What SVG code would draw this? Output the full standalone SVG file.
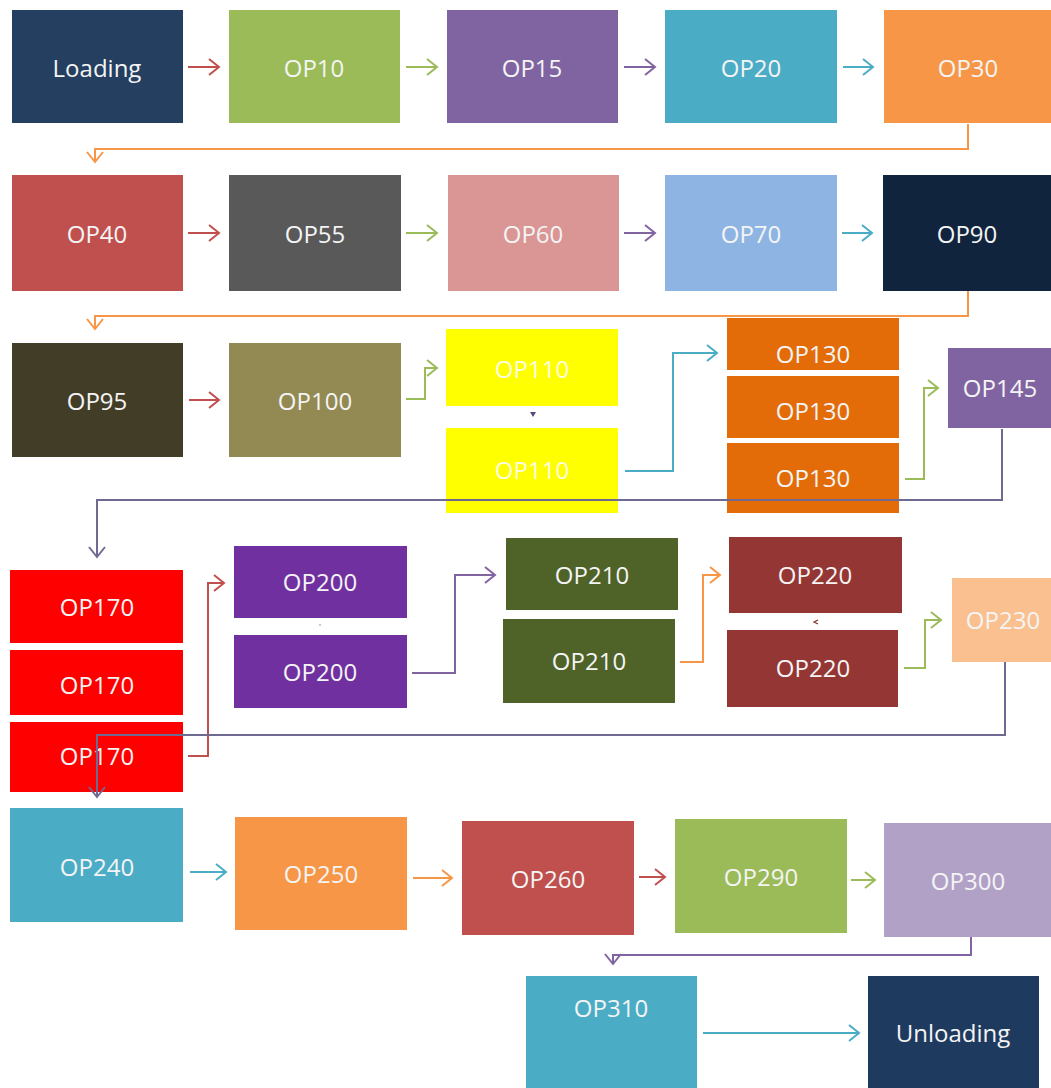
<svg xmlns="http://www.w3.org/2000/svg" width="1051" height="1088" viewBox="0 0 1051 1088">
<style>
text{font-family:"Open Sans","Noto Sans","Liberation Sans",sans-serif;font-size:24px;fill:#f4f4f4;text-anchor:middle;dominant-baseline:central}
.c{fill:none;stroke-width:2}
.red{stroke:#c0504d}.grn{stroke:#9bbb59}.pur{stroke:#8064a2}.tea{stroke:#4bacc6}.org{stroke:#f79646}.gry{stroke:#6e6a92}
</style>
<defs>
<marker id="mr" markerUnits="userSpaceOnUse" markerWidth="14" markerHeight="20" refX="11" refY="9" orient="auto"><path d="M1,1 L11,9 L1,17" fill="none" stroke="#c0504d" stroke-width="2"/></marker>
<marker id="mg" markerUnits="userSpaceOnUse" markerWidth="14" markerHeight="20" refX="11" refY="9" orient="auto"><path d="M1,1 L11,9 L1,17" fill="none" stroke="#9bbb59" stroke-width="2"/></marker>
<marker id="mp" markerUnits="userSpaceOnUse" markerWidth="14" markerHeight="20" refX="11" refY="9" orient="auto"><path d="M1,1 L11,9 L1,17" fill="none" stroke="#8064a2" stroke-width="2"/></marker>
<marker id="mt" markerUnits="userSpaceOnUse" markerWidth="14" markerHeight="20" refX="11" refY="9" orient="auto"><path d="M1,1 L11,9 L1,17" fill="none" stroke="#4bacc6" stroke-width="2"/></marker>
<marker id="mo" markerUnits="userSpaceOnUse" markerWidth="14" markerHeight="20" refX="11" refY="9" orient="auto"><path d="M1,1 L11,9 L1,17" fill="none" stroke="#f79646" stroke-width="2"/></marker>
<marker id="my" markerUnits="userSpaceOnUse" markerWidth="14" markerHeight="20" refX="11" refY="9" orient="auto"><path d="M1,1 L11,9 L1,17" fill="none" stroke="#6e6a92" stroke-width="2"/></marker>
</defs>
<rect width="1051" height="1088" fill="#ffffff"/>
<g id="nodes">
<g id="loading"><rect x="12" y="10" width="171" height="113" fill="#243f60"/><text x="97" y="67">Loading</text></g>
<g id="op10"><rect x="229" y="10" width="171" height="113" fill="#9bbb59"/><text x="314" y="67">OP10</text></g>
<g id="op15"><rect x="447" y="10" width="171" height="113" fill="#8064a2"/><text x="532" y="67">OP15</text></g>
<g id="op20"><rect x="665" y="10" width="172" height="113" fill="#4bacc6"/><text x="751" y="67">OP20</text></g>
<g id="op30"><rect x="884" y="10" width="167" height="113" fill="#f79646"/><text x="968" y="67">OP30</text></g>

<g id="op40"><rect x="12" y="175" width="171" height="116" fill="#c0504d"/><text x="97" y="233">OP40</text></g>
<g id="op55"><rect x="229" y="175" width="172" height="116" fill="#595959"/><text x="315" y="233">OP55</text></g>
<g id="op60"><rect x="448" y="175" width="171" height="116" fill="#d99694"/><text x="533" y="233">OP60</text></g>
<g id="op70"><rect x="665" y="175" width="172" height="116" fill="#8eb4e3"/><text x="751" y="233">OP70</text></g>
<g id="op90"><rect x="883" y="175" width="168" height="116" fill="#10243e"/><text x="967" y="233">OP90</text></g>

<g id="op95"><rect x="12" y="343" width="171" height="114" fill="#423d27"/><text x="97" y="400">OP95</text></g>
<g id="op100"><rect x="229" y="343" width="172" height="114" fill="#938953"/><text x="315" y="400">OP100</text></g>
<g id="op110a"><rect x="446" y="329" width="172" height="77" fill="#ffff00"/><text x="532" y="368" style="fill:#fdfde0">OP110</text></g>
<g id="op110b"><rect x="446" y="428" width="172" height="85" fill="#ffff00"/><text x="532" y="469" style="fill:#fdfde0">OP110</text></g>
<g id="op130a"><rect x="727" y="318" width="172" height="52" fill="#e36c09"/><text x="813" y="353">OP130</text></g>
<g id="op130b"><rect x="727" y="376" width="172" height="62" fill="#e36c09"/><text x="813" y="410">OP130</text></g>
<g id="op130c"><rect x="727" y="443" width="172" height="70" fill="#e36c09"/><text x="813" y="477">OP130</text></g>
<g id="op145"><rect x="948" y="348" width="103" height="80" fill="#8064a2"/><text x="1000" y="387">OP145</text></g>

<g id="op170a"><rect x="10" y="570" width="173" height="73" fill="#ff0000"/><text x="97" y="606">OP170</text></g>
<g id="op170b"><rect x="10" y="650" width="173" height="65" fill="#ff0000"/><text x="97" y="684">OP170</text></g>
<g id="op170c"><rect x="10" y="722" width="173" height="70" fill="#ff0000"/><text x="97" y="755">OP170</text></g>
<g id="op200a"><rect x="234" y="546" width="173" height="72" fill="#7030a0"/><text x="320" y="581">OP200</text></g>
<g id="op200b"><rect x="234" y="635" width="173" height="73" fill="#7030a0"/><text x="320" y="671">OP200</text></g>
<g id="op210a"><rect x="506" y="538" width="172" height="72" fill="#4f6228"/><text x="592" y="574">OP210</text></g>
<g id="op210b"><rect x="503" y="619" width="172" height="84" fill="#4f6228"/><text x="589" y="660">OP210</text></g>
<g id="op220a"><rect x="729" y="537" width="173" height="76" fill="#943634"/><text x="815" y="574">OP220</text></g>
<g id="op220b"><rect x="727" y="630" width="171" height="77" fill="#943634"/><text x="813" y="667">OP220</text></g>
<g id="op230"><rect x="952" y="578" width="99" height="84" fill="#fac090"/><text x="1003" y="619">OP230</text></g>

<g id="op240"><rect x="10" y="808" width="173" height="114" fill="#4bacc6"/><text x="97" y="866">OP240</text></g>
<g id="op250"><rect x="235" y="817" width="172" height="113" fill="#f79646"/><text x="321" y="873">OP250</text></g>
<g id="op260"><rect x="462" y="821" width="172" height="114" fill="#c0504d"/><text x="548" y="878">OP260</text></g>
<g id="op290"><rect x="675" y="819" width="172" height="114" fill="#9bbb59"/><text x="761" y="876">OP290</text></g>
<g id="op300"><rect x="884" y="823" width="167" height="114" fill="#b2a1c7"/><text x="968" y="880">OP300</text></g>
<g id="op310"><rect x="526" y="976" width="171" height="112" fill="#4bacc6"/><text x="611" y="1007">OP310</text></g>
<g id="unloading"><rect x="868" y="976" width="171" height="112" fill="#1f3a5f"/><text x="953" y="1032">Unloading</text></g>
</g>
<g id="connectors">
<path class="c red" d="M188,67 H219" marker-end="url(#mr)"/>
<path class="c grn" d="M406,67 H437" marker-end="url(#mg)"/>
<path class="c pur" d="M624,67 H655" marker-end="url(#mp)"/>
<path class="c tea" d="M843,67 H873" marker-end="url(#mt)"/>
<path class="c org" d="M968,124 V149 H95 V162" marker-end="url(#mo)"/>
<path class="c red" d="M188,233 H219" marker-end="url(#mr)"/>
<path class="c grn" d="M406,233 H437" marker-end="url(#mg)"/>
<path class="c pur" d="M624,233 H655" marker-end="url(#mp)"/>
<path class="c tea" d="M842,233 H872" marker-end="url(#mt)"/>
<path class="c org" d="M968,291 V316 H95 V329" marker-end="url(#mo)"/>
<path class="c red" d="M189,400 H219" marker-end="url(#mr)"/>
<path class="c grn" d="M406,399 H425 V368 H437" marker-end="url(#mg)"/>
<path fill="#5a4a7a" d="M530,412 L536,412 L533,417 Z"/>
<path class="c tea" d="M625,471 H673 V353 H717" marker-end="url(#mt)"/>
<path class="c grn" d="M905,479 H924 V388 H938" marker-end="url(#mg)"/>
<path class="c gry" d="M1002,429 V500 H97 V557" marker-end="url(#my)"/>
<path class="c red" d="M188,756 H208 V583 H224" marker-end="url(#mr)"/>
<circle cx="320" cy="625" r="0.8" fill="#888"/>
<path class="c pur" d="M412,673 H455 V575 H495" marker-end="url(#mp)"/>
<path class="c org" d="M680,662 H703 V575 H720" marker-end="url(#mo)"/>
<path fill="none" stroke="#8a3030" stroke-width="1.2" d="M818,620 L814,622 L818,624"/>
<path class="c grn" d="M904,668 H925 V620 H941" marker-end="url(#mg)"/>
<path class="c gry" d="M1005,662 V735 H97 V797" marker-end="url(#my)"/>
<path class="c tea" d="M190,872 H226" marker-end="url(#mt)"/>
<path class="c org" d="M413,878 H452" marker-end="url(#mo)"/>
<path class="c red" d="M639,877 H665" marker-end="url(#mr)"/>
<path class="c grn" d="M851,880 H875" marker-end="url(#mg)"/>
<path class="c pur" d="M971,937 V955 H613 V964" marker-end="url(#mp)"/>
<path class="c tea" d="M703,1033 H859" marker-end="url(#mt)"/>
</g>
</svg>
